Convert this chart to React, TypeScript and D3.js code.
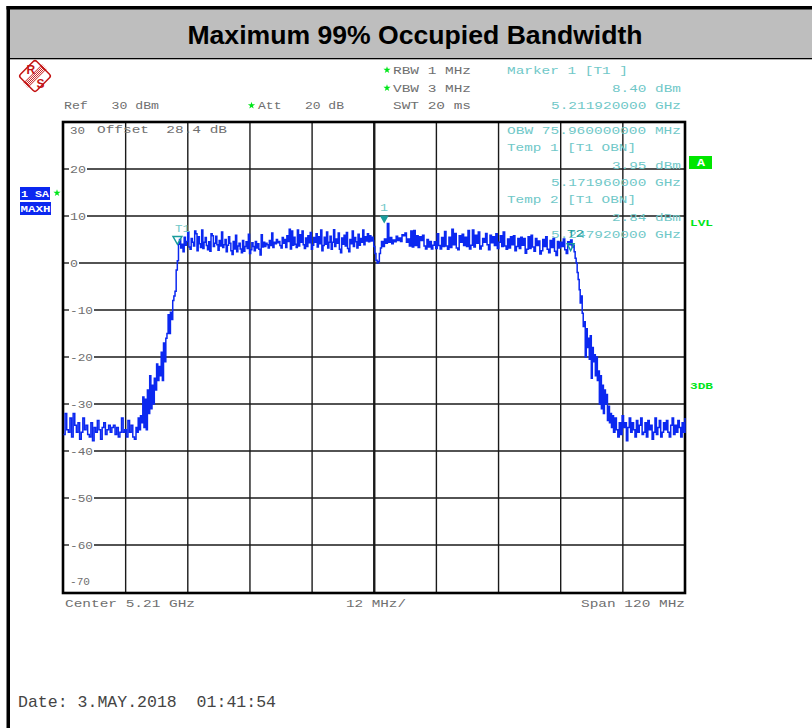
import React from "react";
import * as d3 from "d3";

const title = "Maximum 99% Occupied Bandwidth";
const levelTicks = [20, 10, 0, -10, -20, -30, -40, -50, -60];
const freqDivisions = [12, 24, 36, 48, 60, 72, 84, 96, 108];

const lowLeft = [-36.5,-32,-35.5,-36,-33,-37,-32,-34.5,-36,-34,-37.5,-36,-33,-35.5,-34.5,-36.5,-37,-34,-37.8,-35,-36,-33.5,-35.5,-37.5,-35,-34,-36.5,-35.5,-34.5,-36,-35,-34.5,-36.5,-35,-37,-36,-33,-36,-35.5,-37,-33.5,-36,-34.5,-37,-37.5,-35];
const riseLeft = [-36,-33,-35.5,-32.5,-34,-28.5,-35,-29,-35.5,-27,-32,-24,-31,-26,-30,-24.5,-27,-21.5,-25,-22,-24,-19,-25,-17,-21,-16,-15,-11,-15,-10.5,-12,-8,-7,-6,-1.5,0.5,4];
const plateauLeft = [5,3.2,4,2.4,5.5,3.8,4.6,6.6,3.4,2.9,5.2,4.4,3.6,6.8,6.2,2.6,5.6,4.1,3.3,7,3.1,4.4,5.4,3.7,2.8,4.5,2.5,6.2,5.8,3.5,4.2,5.7,3.9,2.7,4.8,3.6,6.6,3.3,3.9,5,2.4,3.8,5.6,4.2,2.6,1.8,4.6,3,5.9,2.4,3.6,4.2,3,2.2,4.8,2.5,3.5,4.5,3.1,6.1,2,2.8,4.3,3.5,2.6,4.6,3.2,4.1,2.9,1.7,6,3.4,4.4,3.5,4.2,3.9,3.2,4.8,3.7,6.4,3.3,4.4,4.1,5,4.3,4.6,3.7,3.2,5.4,4.2,5,3.3,5.8,4.6,7.2,3,6.8,3.8,5.5,4,3.3,7,3.6,6,4.4,6.8,3.9,3.1,5.3,3.5,5.8,4.3,6.5,2.9,3.8,5.4,4.4,6.2,3.4,5.6,4.1,7,2.6,3.7,5.5,4,6.6,3.2,4.4,5.7,2.9,4.4,7.1,3.5,5.1,4.2,6.4,2.9,2.2,5.3,4,5.9,3.6,6.5,3.1,2.4,5,4.1,6.8,3.5,5.4,4.5,3.2,6.1,3.8,5.2,4.4,7,3.9,5.6,4.7,6.2,4.5,5.8,4.7,5.5,4.8];
const notch = [3.5,2,0.6,0,0.3,2,3.2];
const plateauRight = [4.6,3.5,5.1,4.2,8.4,4.4,5.4,4.1,4.9,4.5,5.7,4.8,5.3,4.6,6,5.8,6.4,4.4,5.1,3.6,6.8,3.4,6.9,3.7,5.8,3.3,5.6,4.8,5.9,3.6,3,5,3.4,4.6,3,3.8,4.5,3.1,6.2,3.7,3,5.4,3.5,6.7,3.6,2.9,5.5,3.3,7.2,3.9,6.3,3.2,2.8,5.8,4.4,6.1,3.7,5.5,3.5,6.9,3,3.8,7,3.4,5.9,4.2,6.6,3,3.6,5.2,4.4,6.3,3.9,2.8,5.9,4.3,5.6,3.7,6.2,3.1,4.4,5.8,3.5,6.6,3.6,2.9,5.1,3.2,5.6,3.9,5.8,2.6,3.5,5.2,3.1,5.5,3.8,5.2,2.1,2.9,5.6,3.1,5.9,3.4,2.5,5.2,3.7,4.7,1.9,2.6,5,3.5,5.6,2.9,2.2,4.8,3.3,5.2,2.5,1.6,4.6,3.2,4.4,3.5,5.1,2.8,2,4.5,3.9,4.9,3.4];
const fallRight = [3.8,2.4,1,0,-2,-3.5,-5.7,-8.5,-7,-10.7,-13.5,-12.5,-20,-14,-18,-16,-20.5,-15.5,-24.5,-18,-21,-19.5,-24,-20,-25,-23,-30,-24,-31,-26,-32,-27,-30,-28,-33.5,-30.5,-34,-32,-35,-32.5];
const lowRight = [-36,-33,-35.5,-37,-34,-36.5,-32.5,-35,-34,-37.8,-35,-33,-36,-34,-35.5,-37,-33.5,-36,-34.5,-33,-36.5,-36,-34,-37,-33.5,-35.5,-34.5,-37.5,-36,-33,-36.5,-35,-33.5,-37,-36,-34,-35.5,-33.5,-36,-37,-34.5,-33,-36.5,-34.5,-36,-33.5,-35,-37,-34,-36,-33];
const segments: [number[], number, number][] = [
  [lowLeft, 0, 14], [riseLeft, 14.2, 22.2], [plateauLeft, 22.4, 59.8], [notch, 59.9, 61.2],
  [plateauRight, 61.4, 98.2], [fallRight, 98.4, 106], [lowRight, 106.2, 120],
];

const W = 812, H = 728;
const x = d3.scaleLinear().domain([0, 120]).range([63.5, 685]);
const y = d3.scaleLinear().domain([30, -70]).range([122, 592]);
const trace: [number, number][] = segments.flatMap(([vals, a, b]) =>
  vals.map((v, i) => [a + ((b - a) * i) / Math.max(1, vals.length - 1), v] as [number, number]));
const linePath = d3.line<[number, number]>().x(d => x(d[0])).y(d => y(d[1])).curve(d3.curveStepAfter)(trace) || "";
const star = d3.symbol().type(d3.symbolStar).size(16)() || "";

const MONO = "'Liberation Mono', monospace";
const GRAY = "#6f6f6f", CYAN = "#70c8c8", TEAL = "#189c9c", GREEN = "#00e61a", BLUE = "#0b28f0", RED = "#c41414";

function T({ at, yy, w, c = GRAY, s = 11, children, weight }: any) {
  return (
    <text x={at} y={yy} fill={c} fontFamily={MONO} fontSize={s} fontWeight={weight}
      textLength={w} lengthAdjust="spacingAndGlyphs" xmlSpace="preserve">
      {children}
    </text>
  );
}
const Star = ({ at, yy }: any) => <path d={star} transform={`translate(${at},${yy})`} fill={GREEN} />;

export default function App() {
  return (
    <svg width={W} height={H} viewBox={`0 0 ${W} ${H}`} style={{ position: "absolute", left: 0, top: 0, display: "block", background: "#fff" }}>
      <rect x={0} y={0} width={W} height={H} fill="#fff" />
      <rect x={10} y={9} width={W - 10} height={49} fill="#bebebe" />
      <rect x={6.5} y={6} width={W - 6} height={3.5} fill="#000" />
      <rect x={6.5} y={6} width={3.5} height={H - 6} fill="#000" />
      <rect x={10} y={58} width={W - 10} height={1.3} fill="#000" />
      <text x={415} y={44} textAnchor="middle" fontFamily="'Liberation Sans', Arial, sans-serif" fontWeight="bold" fontSize={26.6} fill="#000">{title}</text>

      {/* R&S logo */}
      <g transform="translate(35,76)">
        <rect x={-11.5} y={-11.5} width={23} height={23} rx={2.5} transform="rotate(45)" fill="#fff" stroke={RED} strokeWidth={1.5} />
        <g transform="rotate(-45)" stroke={RED} strokeWidth={0.9}>
          {[-3, -1.5, 0, 1.5, 3].map(d => <line key={d} x1={-13} x2={13} y1={d} y2={d} />)}
        </g>
        <text x={-8.5} y={-2.5} fontFamily="'Liberation Sans'" fontWeight="bold" fontSize={12} fill={RED}>R</text>
        <text x={1.5} y={12} fontFamily="'Liberation Sans'" fontWeight="bold" fontSize={12} fill={RED}>S</text>
      </g>

      {/* header */}
      <Star at={387} yy={70} /><T at={393} yy={73.5} w={78}>RBW 1 MHz</T>
      <Star at={387} yy={88} /><T at={393} yy={91.5} w={78}>VBW 3 MHz</T>
      <T at={393} yy={108.5} w={78}>SWT 20 ms</T>
      <T at={64} yy={108.5} w={95}>Ref   30 dBm</T>
      <Star at={251.5} yy={105.5} /><T at={258} yy={108.5} w={86}>Att   20 dB</T>
      <T at={507} yy={73.5} w={121} c={CYAN}>Marker 1 [T1 ]</T>
      <T at={612} yy={91.5} w={69} c={CYAN}>8.40 dBm</T>
      <T at={551} yy={108.5} w={130} c={CYAN}>5.211920000 GHz</T>

      {/* grid */}
      {levelTicks.map(v => {
        const labelW = v === 0 ? 8 : v > 0 ? 16 : 23;
        return (
          <g key={v}>
            <line x1={63} x2={69} y1={y(v)} y2={y(v)} stroke="#222" strokeWidth={1.4} />
            <line x1={71 + labelW} x2={685} y1={y(v)} y2={y(v)} stroke="#1a1a1a" strokeWidth={1.4} />
            <T at={70} yy={y(v) + 3.5} w={labelW}>{String(v)}</T>
          </g>
        );
      })}
      {freqDivisions.map(f => (
        <line key={f} x1={x(f)} x2={x(f)} y1={122} y2={593} stroke="#1a1a1a" strokeWidth={f === 60 ? 2.4 : 1.4} />
      ))}
      <T at={70} yy={134} w={15}>30</T>
      <T at={70} yy={585} w={20}>-70</T>
      <T at={97} yy={133} w={130}>Offset  28.4 dB</T>
      <rect x={63} y={122} width={622} height={471} fill="none" stroke="#000" strokeWidth={2.6} />

      {/* readouts inside the plot */}
      <T at={507} yy={133.5} w={174} c={CYAN}>OBW 75.960000000 MHz</T>
      <T at={507} yy={150.5} w={129} c={CYAN}>Temp 1 [T1 OBN]</T>
      <T at={612} yy={168.5} w={69} c={CYAN}>3.95 dBm</T>
      <T at={551} yy={185.5} w={130} c={CYAN}>5.171960000 GHz</T>
      <T at={507} yy={202.5} w={129} c={CYAN}>Temp 2 [T1 OBN]</T>
      <T at={612} yy={220.5} w={69} c={CYAN}>2.84 dBm</T>
      <T at={551} yy={237.5} w={130} c={CYAN}>5.247920000 GHz</T>

      {/* trace */}
      <path d={linePath} fill="none" stroke={BLUE} strokeWidth={1.5} />

      {/* markers */}
      <T at={175} yy={232} w={15} c={CYAN}>T1</T>
      <path d={`M${x(22)-4.5},${y(3.95)-8} h9 l-4.5,8 z`} fill="none" stroke={TEAL} strokeWidth={1.4} />
      <T at={380} yy={211} w={8} c={CYAN}>1</T>
      <path d={`M${x(61.92)-4.5},${y(8.4)-8} h9 l-4.5,8 z`} fill={TEAL} />
      <T at={567} yy={237} w={17} c={TEAL}>T2</T>
      <path d={`M${x(97.92)-3.5},${y(2.84)-6} h7 l-3.5,7 z`} fill="none" stroke={TEAL} strokeWidth={1.4} />

      {/* side labels */}
      <rect x={20} y={187} width={30} height={13} fill={BLUE} />
      <rect x={20} y={202} width={31} height={13} fill={BLUE} />
      <T at={21} yy={196.5} w={28} c="#fff" s={9} weight="bold">1 SA</T>
      <T at={20.5} yy={211.5} w={30} c="#fff" s={9} weight="bold">MAXH</T>
      <Star at={57} yy={193} />
      <rect x={689} y={156} width={23} height={13} fill="#00e600" />
      <T at={697} yy={166} w={8} c="#fff" s={10} weight="bold">A</T>
      <T at={690} yy={226} w={23} c={GREEN} s={9} weight="bold">LVL</T>
      <T at={690} yy={389} w={23} c={GREEN} s={9} weight="bold">3DB</T>

      {/* footer */}
      <T at={65} yy={607} w={130}>Center 5.21 GHz</T>
      <T at={346} yy={607} w={60}>12 MHz/</T>
      <T at={581} yy={607} w={104}>Span 120 MHz</T>
      <text x={18} y={707} fontFamily={MONO} fontSize={17} fill="#444" textLength={258} lengthAdjust="spacingAndGlyphs" xmlSpace="preserve">Date: 3.MAY.2018  01:41:54</text>
    </svg>
  );
}
